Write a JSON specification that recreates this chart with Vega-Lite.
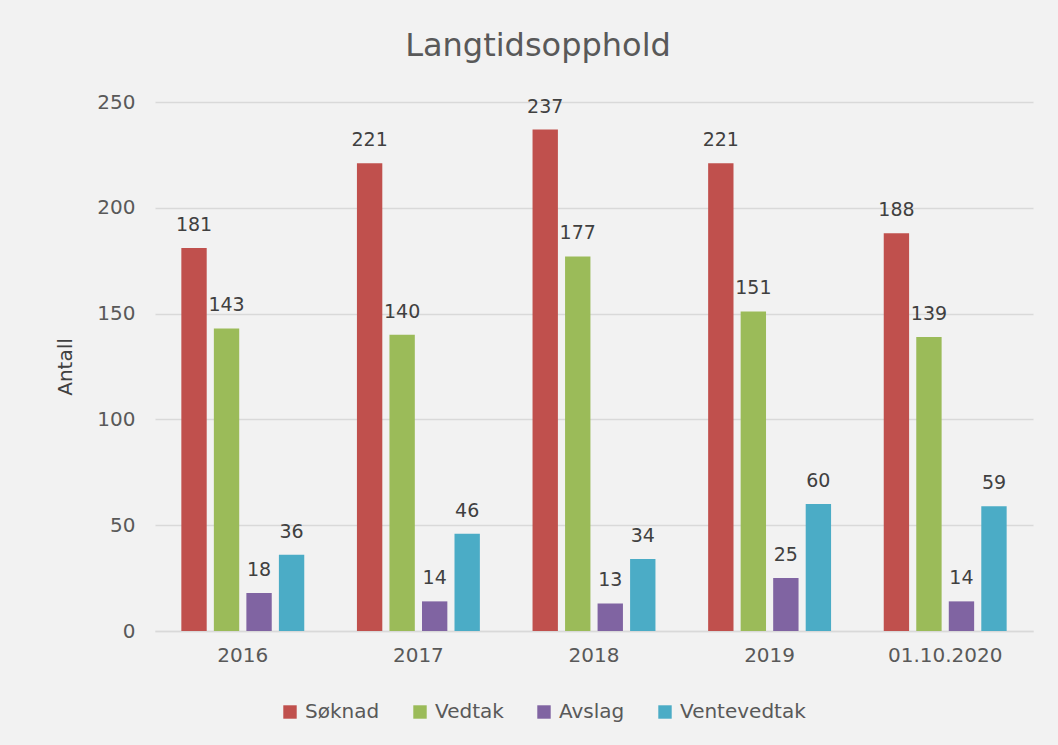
{
  "$schema": "https://vega.github.io/schema/vega-lite/v6.json",
  "width": 878,
  "height": 529,
  "autosize": {"type": "none"},
  "padding": {"left": 155, "top": 102, "right": 25, "bottom": 114},
  "background": "#F2F2F2",
  "title": {
    "text": "Langtidsopphold",
    "fontSize": 32,
    "font": "DejaVu Sans",
    "fontWeight": "normal",
    "color": "#595959",
    "anchor": "middle",
    "dx": -56,
    "offset": 29
  },
  "config": {
    "view": {"stroke": null},
    "font": "DejaVu Sans"
  },
  "data": {
    "values": [
      {"year": "2016", "series": "Søknad", "value": 181},
      {"year": "2016", "series": "Vedtak", "value": 143},
      {"year": "2016", "series": "Avslag", "value": 18},
      {"year": "2016", "series": "Ventevedtak", "value": 36},
      {"year": "2017", "series": "Søknad", "value": 221},
      {"year": "2017", "series": "Vedtak", "value": 140},
      {"year": "2017", "series": "Avslag", "value": 14},
      {"year": "2017", "series": "Ventevedtak", "value": 46},
      {"year": "2018", "series": "Søknad", "value": 237},
      {"year": "2018", "series": "Vedtak", "value": 177},
      {"year": "2018", "series": "Avslag", "value": 13},
      {"year": "2018", "series": "Ventevedtak", "value": 34},
      {"year": "2019", "series": "Søknad", "value": 221},
      {"year": "2019", "series": "Vedtak", "value": 151},
      {"year": "2019", "series": "Avslag", "value": 25},
      {"year": "2019", "series": "Ventevedtak", "value": 60},
      {"year": "01.10.2020", "series": "Søknad", "value": 188},
      {"year": "01.10.2020", "series": "Vedtak", "value": 139},
      {"year": "01.10.2020", "series": "Avslag", "value": 14},
      {"year": "01.10.2020", "series": "Ventevedtak", "value": 59}
    ]
  },
  "encoding": {
    "x": {
      "field": "year",
      "type": "nominal",
      "sort": null,
      "scale": {"paddingInner": 0.3, "paddingOuter": 0.15},
      "axis": {
        "title": null,
        "labelAngle": 0,
        "labelFontSize": 20,
        "labelColor": "#595959",
        "labelPadding": 14,
        "ticks": false,
        "domainColor": "#D9D9D9",
        "domainWidth": 1.5
      }
    },
    "xOffset": {
      "field": "series",
      "type": "nominal",
      "sort": ["Søknad", "Vedtak", "Avslag", "Ventevedtak"],
      "scale": {"paddingInner": 0.22, "paddingOuter": 0}
    },
    "y": {
      "field": "value",
      "type": "quantitative",
      "scale": {"domain": [0, 250]},
      "axis": {
        "title": "Antall",
        "titleFontSize": 20,
        "titleFontWeight": "normal",
        "titleColor": "#404040",
        "titlePadding": 21,
        "values": [0, 50, 100, 150, 200, 250],
        "labelFontSize": 20,
        "labelColor": "#595959",
        "labelPadding": 20,
        "ticks": false,
        "domain": false,
        "gridColor": "#D9D9D9",
        "gridWidth": 1.5
      }
    }
  },
  "layer": [
    {
      "mark": {"type": "bar"},
      "encoding": {
        "color": {
          "field": "series",
          "type": "nominal",
          "sort": ["Søknad", "Vedtak", "Avslag", "Ventevedtak"],
          "scale": {
            "domain": ["Søknad", "Vedtak", "Avslag", "Ventevedtak"],
            "range": ["#C0504D", "#9BBB59", "#8064A2", "#4BACC6"]
          },
          "legend": {
            "title": null,
            "orient": "none",
            "direction": "horizontal",
            "legendX": 125,
            "legendY": 600,
            "symbolType": "square",
            "symbolSize": 180,
            "symbolStrokeWidth": 0,
            "labelFontSize": 20,
            "labelColor": "#595959",
            "columnPadding": 30,
            "labelOffset": 5
          }
        }
      }
    },
    {
      "mark": {
        "type": "text",
        "baseline": "bottom",
        "dy": -13,
        "fontSize": 19,
        "color": "#404040"
      },
      "encoding": {
        "text": {"field": "value", "type": "quantitative"}
      }
    }
  ]
}
